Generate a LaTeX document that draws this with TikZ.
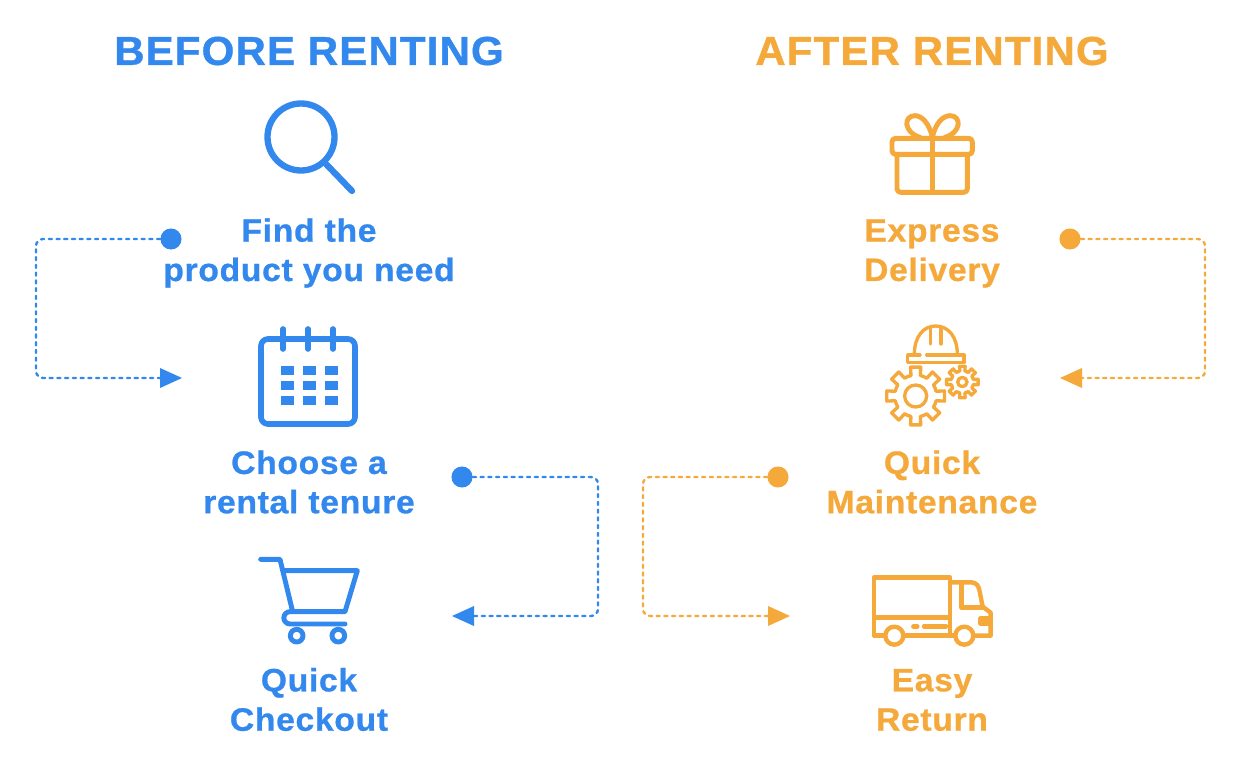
\documentclass[tikz,border=0pt]{standalone}
\usepackage{fontspec}
\newfontfamily\headfont[FakeStretch=1.04,LetterSpace=2.8,FakeBold=0.9]{Liberation Sans Bold}
\newfontfamily\labfont[FakeStretch=1.04,LetterSpace=2.2,FakeBold=0.8]{Liberation Sans Bold}
\definecolor{bl}{HTML}{3388EE}
\definecolor{og}{HTML}{F5A93B}
\newcommand{\gearshape}[5]{% cx cy outer root inner
  \foreach \k in {0,45,...,315}{
    \pgfmathsetmacro{\aa}{\k-13}\pgfmathsetmacro{\ab}{\k-10}
    \pgfmathsetmacro{\ac}{\k+10}\pgfmathsetmacro{\ad}{\k+13}
    \draw[line join=round] ($(#1,#2)+(\aa:#4)$) -- ($(#1,#2)+(\ab:#3)$) -- ($(#1,#2)+(\ac:#3)$) -- ($(#1,#2)+(\ad:#4)$) arc[start angle=\ad,delta angle=19,radius=#4];
  }
  \draw (#1,#2) circle[radius=#5];
}
\usetikzlibrary{calc}
\tikzset{
  head/.style={font=\fontsize{23pt}{28pt}\headfont,anchor=center,inner sep=0},
  lab/.style={font=\fontsize{18.4pt}{22.4pt}\labfont,align=center,anchor=center,inner sep=0},
  dot/.style={circle,fill=#1,draw=none,minimum size=12pt,inner sep=0},
  link/.style={draw=#1,line width=1.35pt,line cap=round,dash pattern=on 1.8pt off 2.6pt,rounded corners=4pt},
  tip/.style={fill=#1,draw=none},
  icon/.style={draw=#1,line width=3.2pt,line cap=round,line join=round,fill=none},
}
\begin{document}
\begin{tikzpicture}[x=0.02cm,y=-0.02cm]
\useasboundingbox (0,0) rectangle (1240,780);
\fill[white] (0,0) rectangle (1240,780);
% headings
\node[head,text=bl] (hb) at (309,51) {BEFORE RENTING};
\node[head,text=og] (ha) at (932,51) {AFTER RENTING};
% labels
\node[lab,text=bl] (l1) at (309,253) {Find the\\product you need};
\node[lab,text=bl] (l2) at (309,482) {Choose a\\rental tenure};
\node[lab,text=bl] (l3) at (309,699.5) {Quick\\Checkout};
\node[lab,text=og] (r1) at (932,253.5) {Express\\Delivery};
\node[lab,text=og] (r2) at (932,482) {Quick\\Maintenance};
\node[lab,text=og] (r3) at (932,700) {Easy\\Return};
% connectors
\node[dot=bl] (d1) at (171,239) {};
\coordinate (t1) at (162,378);
\draw[link=bl] (d1) -- (36,239) -- (36,378) -- (t1);
\fill[tip=bl] (160,368) -- (182,378) -- (160,388) -- cycle;
\node[dot=bl] (d2) at (462,477) {};
\coordinate (t2) at (472,616);
\draw[link=bl] (d2) -- (598,477) -- (598,616) -- (t2);
\fill[tip=bl] (474,606) -- (452,616) -- (474,626) -- cycle;
\node[dot=og] (d3) at (1070,239) {};
\coordinate (t3) at (1080,378);
\draw[link=og] (d3) -- (1205,239) -- (1205,378) -- (t3);
\fill[tip=og] (1082,368) -- (1060,378) -- (1082,388) -- cycle;
\node[dot=og] (d4) at (778,477) {};
\coordinate (t4) at (770,616);
\draw[link=og] (d4) -- (643,477) -- (643,616) -- (t4);
\fill[tip=og] (768,606) -- (790,616) -- (768,626) -- cycle;
% magnifier
\begin{scope}[icon=bl,line width=3.6pt]
\draw (301,137) circle[radius=33.5];
\draw (326,164) -- (352,191);
\end{scope}
% calendar
\begin{scope}[icon=bl]
\draw[rounded corners=4pt] (261,339) rectangle (355,424);
\foreach \x in {283,308,333} \draw (\x,329) -- (\x,349);
\foreach \x in {281,303,325} \foreach \y in {366,381,396}
  \fill[bl] (\x,\y) rectangle ++(12.5,8.5);
\end{scope}
% cart
\begin{scope}[shift={(240,550)},x=0.00667cm,y=-0.00667cm,icon=bl,line width=2.8pt]
\draw (62,28) -- (120,28) -- (158,185) -- (315,185) -- (352,62) -- (132,62);
\draw (315,222) -- (150,222) arc[start angle=90,delta angle=180,radius=18.5] -- (158,185);
\draw (170,257) circle[radius=19];
\draw (295,257) circle[radius=19];
\end{scope}
% gift
\begin{scope}[shift={(870,105)},x=0.00667cm,y=-0.00667cm,icon=og,line width=2.8pt]
\draw[rounded corners=2pt] (66,100) rectangle (307,148);
\draw[rounded corners=2pt] (81,148) -- (81,262) -- (292,262) -- (292,148);
\draw (187,100) -- (187,262);
\draw (187,97) .. controls (178,55) and (155,32) .. (135,32) .. controls (100,32) and (100,82) .. (150,97);
\draw (187,97) .. controls (196,55) and (219,32) .. (240,32) .. controls (275,32) and (275,82) .. (225,97);
\end{scope}
% helmet + gears
\begin{scope}[shift={(870,320)},x=0.00667cm,y=-0.00667cm,icon=og,line width=1.9pt]
\draw (150,105) -- (113,105) -- (113,128) -- (282,128) -- (282,105) -- (170,105);
\draw (133,103) .. controls (133,50) and (160,18) .. (197,18) .. controls (235,18) and (262,50) .. (262,103);
\draw (181,22) -- (181,72);
\draw (213,22) -- (213,72);
\gearshape{137}{228}{88}{63}{33}
\gearshape{277}{186}{48}{34}{14}
\end{scope}
% truck
\begin{scope}[shift={(860,565)},x=0.00667cm,y=-0.00667cm,icon=og,line width=2.5pt]
\draw (42,158) -- (42,37) -- (270,37) -- (270,158) -- cycle;
\draw (42,158) -- (42,212) -- (72,212);
\draw (135,212) -- (285,212);
\draw (270,158) -- (270,212);
\draw (103,212) circle[radius=27];
\draw (313,212) circle[radius=27];
\draw (160,184) -- (172,184);
\draw (192,184) -- (258,184);
\draw (270,52) -- (335,52) .. controls (350,54) and (355,62) .. (358,75) -- (368,125) -- (392,143) -- (392,212) -- (342,212);
\draw (305,60) -- (305,128) -- (368,128);
\draw (362,160) -- (390,160) -- (390,176) -- (362,176) -- cycle;
\end{scope}
\end{tikzpicture}
\end{document}
